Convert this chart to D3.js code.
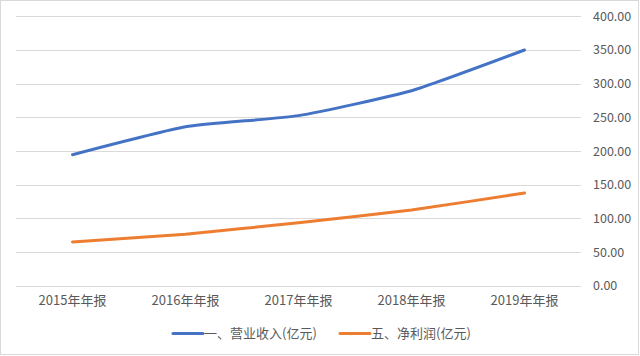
<!DOCTYPE html>
<html><head><meta charset="utf-8">
<script src="https://cdn.jsdelivr.net/npm/d3@7"></script>
<style>
html,body{margin:0;padding:0;background:#fff;}
svg{display:block;}
text{font-family:"Noto Sans CJK SC","Noto Sans",sans-serif;fill:#595959;}
</style></head>
<body>
<svg id="chart" width="640" height="356"></svg>
<script>
const categories = ["2015年年报","2016年年报","2017年年报","2018年年报","2019年年报"];
const revenue = [194.5, 236, 252.5, 289.5, 350];
const netProfit = [65, 76.5, 93.5, 112.5, 137.5];
const seriesNames = ["一、营业收入(亿元)","五、净利润(亿元)"];
const seriesColors = ["#4472C4","#ED7D31"];
const yTicks = [0,50,100,150,200,250,300,350,400];

const svg = d3.select("#chart");
svg.append("rect").attr("x",0.5).attr("y",0.5).attr("width",638).attr("height",354)
  .attr("fill","#fff").attr("stroke","#d9d9d9");

const x = d3.scaleBand().domain(categories).range([16,581]);
const y = d3.scaleLinear().domain([0,400]).range([285.7,16.3]);

// gridlines
svg.append("g").selectAll("line").data(yTicks).join("line")
  .attr("x1",16).attr("x2",581)
  .attr("y1",d=>Math.round(y(d))+0.5).attr("y2",d=>Math.round(y(d))+0.5)
  .attr("stroke","#d9d9d9").attr("stroke-width",1);

// right axis labels
const yAxis = d3.axisRight(y).tickValues(yTicks).tickFormat(d3.format(".2f")).tickSize(0).tickPadding(0);
const ya = svg.append("g").attr("transform","translate(593,0)").call(yAxis);
ya.select(".domain").remove();
ya.selectAll("text").style("font-size","12.5px").attr("fill","#595959").attr("font-family",null);

// bottom axis labels
const xAxis = d3.axisBottom(x).tickSize(0).tickPadding(0);
const xa = svg.append("g").attr("transform","translate(0,296)").call(xAxis);
xa.select(".domain").remove();
xa.selectAll("text").style("font-size","13px").attr("fill","#595959").attr("font-family",null);

const line = d3.line().x((d,i)=>x(categories[i])+x.bandwidth()/2).y(d=>y(d)).curve(d3.curveCardinal.tension(0.5));
[revenue, netProfit].forEach((s,k)=>{
  svg.append("path").datum(s).attr("d",line).attr("fill","none")
    .attr("stroke",seriesColors[k]).attr("stroke-width",3).attr("stroke-linecap","round");
});

// legend
const legendX = [173, 340];
const lg = svg.append("g");
seriesNames.forEach((n,k)=>{
  lg.append("line").attr("x1",legendX[k]).attr("x2",legendX[k]+30).attr("y1",333.5).attr("y2",333.5)
    .attr("stroke",seriesColors[k]).attr("stroke-width",3).attr("stroke-linecap","round");
  lg.append("text").attr("x",legendX[k]+31).attr("y",333.5).attr("dy","0.35em")
    .style("font-size","13px").text(n);
});
</script>
</body></html>
